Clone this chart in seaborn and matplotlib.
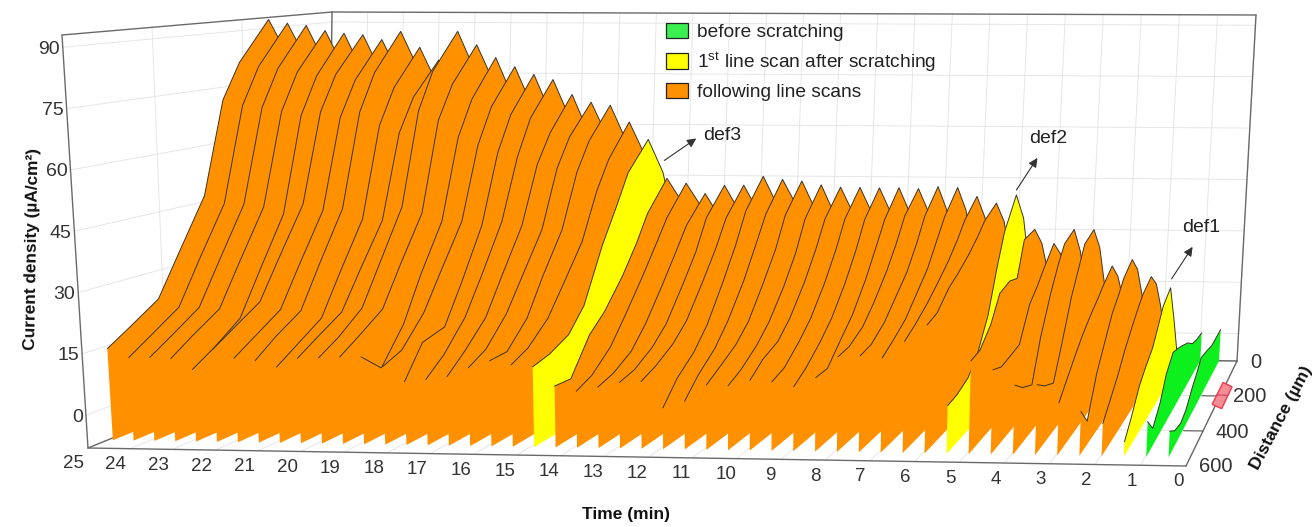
import numpy as np
import pandas as pd
import matplotlib.pyplot as plt
from matplotlib.patches import Patch
import seaborn as sns

sns.set_theme(style="white")
plt.rcParams["font.family"] = ["Liberation Sans", "DejaVu Sans"]
plt.rcParams["mathtext.default"] = "regular"

# Line scans, oldest (left) to newest (right)
scan_times = [24.4, 23.91, 23.42, 22.93, 22.44, 21.95, 21.46, 20.97, 20.48, 19.99,
              19.5, 19.01, 18.52, 18.03, 17.54, 17.05, 16.56, 16.07, 15.58, 15.09,
              14.6, 14.11, 13.62, 13.13, 12.64, 12.15, 11.66, 11.17, 10.68, 10.19,
              9.7, 9.21, 8.72, 8.23, 7.74, 7.25, 6.76, 6.27, 5.78, 5.29,
              4.8, 4.31, 3.82, 3.33, 2.84, 2.35, 1.86, 1.37, 0.88, 0.39]
scan_kinds = ["following"] * 20 + ["first"] + ["following"] * 18 + ["first"] \
    + ["following"] * 7 + ["first"] + ["before"] * 2

distances = [600, 540, 470, 415, 350, 300, 260, 192, 140, 90, 40]

# current density (uA/cm2) of each scan at the distances above
currents = [
    [16.4, 20, 24.6, 35, 48, 72.5, 82, 93, 80, 50, 5],
    [14.3, 18, 22.6, 33.2, 46, 71, 81, 92, 79, 50, 5],
    [14.4, 18, 22.6, 33, 45.9, 70.5, 80.5, 91.4, 78, 49, 5],
    [14.2, 18, 22.3, 32.6, 45.2, 69.5, 79.5, 90, 77, 48, 5],
    [11.6, 15, 20, 30.5, 43.4, 68.5, 78.5, 89.3, 76, 48, 5],
    [16.5, 20, 24.2, 34, 46, 69.5, 79, 88.9, 76, 48, 5],
    [14.5, 18, 22.3, 32.3, 44.4, 68, 77.5, 87.6, 75, 47, 5],
    [14, 18, 22.1, 32.5, 45, 69.5, 79.5, 89.9, 77, 48, 5],
    [12.5, 16, 20.3, 30.3, 42.3, 66, 75.5, 85.5, 73, 46, 5],
    [14.7, 18, 21.9, 31, 42, 64, 73, 82, 70, 44, 5],
    [14.9, 18, 23, 33, 45.6, 70, 80, 90, 77, 48, 5],
    [15.2, 18.5, 22.8, 32.5, 44, 67.5, 76.5, 86.3, 74, 46, 5],
    [15.3, 10.5, 19, 30, 42, 63, 72.5, 82.8, 70, 45, 5],
    [13, 15, 22, 31, 42, 61, 70.5, 80.3, 68, 43, 5],
    [9.4, 17, 18.5, 28, 41, 59, 68.5, 78.2, 66, 42, 5],
    [10, 14, 21, 30, 42, 58, 67.5, 76.8, 65, 41, 5],
    [10.8, 15, 21, 30, 41, 56, 63.5, 72.7, 61, 39, 5],
    [13, 15.5, 22, 30, 40, 55, 62.5, 70.6, 60, 38, 5],
    [14.8, 15, 21, 30, 40, 54, 61.5, 69.8, 59, 38, 5],
    [13.9, 16, 21, 28, 37, 49, 56.5, 65.2, 55, 35, 5],
    [13.5, 14.5, 17, 22.5, 36, 45, 53, 60.4, 50, 32, 5],
    [8.9, 8.5, 17, 21, 28, 35, 42, 49.7, 42, 27, 5],
    [7.7, 9.5, 14, 20, 28, 35, 41, 48.4, 41, 26, 5],
    [8.8, 10, 13, 18, 26, 33, 39, 45.6, 38, 25, 5],
    [10, 11, 14, 18, 26, 33, 41, 47.9, 40, 26, 5],
    [10.3, 12, 15, 19, 27, 34, 41, 48, 40, 26, 5],
    [4, 9, 13, 18, 27, 35, 43, 50.5, 42, 27, 5],
    [5.7, 10, 14, 19, 27, 35, 42, 49.7, 42, 27, 5],
    [9.7, 12, 15, 19, 27, 34, 42, 49.3, 41, 27, 5],
    [9.6, 11.5, 15, 19, 26, 33, 41, 48.3, 40, 26, 5],
    [11, 14, 16, 20, 27, 34, 41, 47.7, 40, 26, 5],
    [10.7, 12, 16, 20, 27, 34, 41, 47.7, 40, 26, 5],
    [9.6, 12, 16, 20, 27, 34, 41, 47.6, 40, 26, 5],
    [11.9, 12, 17, 21, 28, 35, 41, 47.7, 40, 26, 5],
    [17, 17.5, 20, 24, 30, 36, 42, 47.5, 40, 26, 5],
    [17.3, 18, 21, 25, 30, 36, 42, 48.1, 40, 26, 5],
    [16.9, 19, 22, 26, 31, 37, 42, 47.9, 40, 26, 5],
    [21, 23, 26, 29, 33, 37, 41, 45.5, 38, 25, 5],
    [25, 26, 30, 32, 35, 38, 41, 43.7, 37, 24, 5],
    [5.6, 6, 7.5, 11, 19, 30, 38, 46, 38, 22, 5],
    [16.5, 17, 21, 27, 28, 27, 36, 36.6, 31, 21, 6],
    [14.4, 13, 13.5, 14, 22, 25, 28, 32.8, 28, 18, 5],
    [10.8, 8, 6, 16, 25, 31, 35, 36.7, 29, 18, 4],
    [11, 8.5, 6.5, 14, 24, 30, 35, 36.7, 30, 18, 4],
    [6.7, 10, 14, 17, 20, 22, 24, 26.8, 22, 14, 3],
    [4.7, 0, 9, 14, 20, 23, 26, 28.6, 24, 15, 3],
    [1.9, 5, 9, 13, 17, 20, 22, 24, 20, 12, 2],
    [-2.4, 1, 6, 8.5, 11, 15, 18.5, 21, 10, -2, -4],
    [2.5, -1.5, 2, 7, 10, 9, 8, 6, 3.5, 2.5, 2],
    [0.3, -2, -3, -2, 1, 3, 5, 4, 3, 3, 3],
]

time_ticks = list(range(25, -1, -1))
current_ticks = [0, 15, 30, 45, 60, 75, 90]
distance_ticks = [0, 200, 400, 600]

scan_colors = {"following": "#FF9100", "first": "#FFFF00", "before": "#0EF01E"}
legend_colors = {"before": "#3CEF50", "first": "#FFFF00", "following": "#FF9100"}

# Box of the 3D chart in figure pixels: (time 25 / 0, distance 600 / 0, current low / high)
box = {
    (0, 0, 0): (88, 448), (0, 0, 1): (62, 35),
    (0, 1, 0): (328, 350), (0, 1, 1): (332, 12),
    (1, 0, 0): (1186, 466), (1, 0, 1): (1205, 46),
    (1, 1, 0): (1237, 361), (1, 1, 1): (1256, 15),
}
CUR_LOW, CUR_HIGH = -8, 93
BASE = -6


def project(t, d, c):
    # perspective squeeze along the time axis, then trilinear inside the box
    s = (25 - np.asarray(t, float)) / 25
    u = s / (s + 1.04 * (1 - s))
    f = (600 - np.asarray(d, float)) / 600
    w = (np.asarray(c, float) - CUR_LOW) / (CUR_HIGH - CUR_LOW)
    x, y = 0, 0
    for (a, b, e), (px, py) in box.items():
        k = (u if a else 1 - u) * (f if b else 1 - f) * (w if e else 1 - w)
        x = x + k * px
        y = y + k * py
    return x, y


def line3d(ax, p, q, color="#e6e6e6", lw=0.7, zorder=1):
    xa, ya = project(*p)
    xb, yb = project(*q)
    ax.plot([xa, xb], [ya, yb], color=color, lw=lw, zorder=zorder, solid_capstyle="round")


fig = plt.figure(figsize=(13.12, 5.27), dpi=100)
ax = fig.add_axes([0, 0, 1, 1])
ax.set_xlim(0, 1312)
ax.set_ylim(527, 0)
ax.axis("off")

# walls and floor grid
for c in current_ticks:
    line3d(ax, (25, 600, c), (25, 0, c))
    line3d(ax, (25, 0, c), (0, 0, c))
for t in time_ticks:
    line3d(ax, (t, 0, CUR_LOW), (t, 0, CUR_HIGH))
    line3d(ax, (t, 600, CUR_LOW), (t, 0, CUR_LOW))
for d in distance_ticks[1:3]:
    line3d(ax, (25, d, CUR_LOW), (25, d, CUR_HIGH))
    line3d(ax, (25, d, CUR_LOW), (0, d, CUR_LOW))

# frame
frame_edges = [((25, 600, CUR_HIGH), (25, 0, CUR_HIGH)), ((25, 0, CUR_HIGH), (0, 0, CUR_HIGH)),
               ((25, 600, CUR_LOW), (25, 600, CUR_HIGH)), ((25, 600, CUR_LOW), (0, 600, CUR_LOW)),
               ((0, 600, CUR_LOW), (0, 0, CUR_LOW)), ((0, 0, CUR_LOW), (0, 0, CUR_HIGH)),
               ((25, 0, CUR_LOW), (25, 0, CUR_HIGH)), ((25, 600, CUR_LOW), (25, 0, CUR_LOW))]
for p, q in frame_edges:
    line3d(ax, p, q, color="#6a6a6a", lw=1.0, zorder=2)
line3d(ax, (0, 0, CUR_LOW), (0.6, 0, CUR_LOW), color="#5a5a5a", lw=1.0, zorder=2)

# waterfall: every scan covers the one before it
for i, (t, kind, row) in enumerate(zip(scan_times, scan_kinds, currents)):
    cx, cy = project(t, distances, row)
    bx, by = project(t, [distances[-1], distances[0]], BASE)
    ax.fill(np.r_[cx, bx], np.r_[cy, by], color=scan_colors[kind], lw=0, zorder=3 + i * 0.01)
    sns.lineplot(x=cx, y=cy, sort=False, estimator=None, color="#3a3226", lw=0.7, ax=ax,
                 zorder=3.005 + i * 0.01, legend=False)

# scratch marker on the distance axis
mx, my = project([0.14, -0.14, -0.14, 0.14], [123, 147, 272, 248], CUR_LOW)
ax.fill(mx + 2, my, facecolor="#F58C96", edgecolor="#EE3B4A", lw=1.0, zorder=6)
line3d(ax, (0.1, 195, CUR_LOW), (-0.18, 195, CUR_LOW), color="#C93A48", lw=0.7, zorder=7)

# tick labels
for c in current_ticks:
    x, y = project(25, 600, c)
    ax.text(x - 3, y + 2, str(c), ha="right", va="center", fontsize=14, color="#333333")
for t in time_ticks:
    x, y = project(t, 600, CUR_LOW)
    ax.text(x - 15 + 7 * (25 - t) / 25, y + 16, str(t), ha="center", va="center",
            fontsize=13.5, color="#333333")
for d in distance_ticks:
    x, y = project(0, d, CUR_LOW)
    ax.text(x + 13, y + 1, str(d), ha="left", va="center", fontsize=14.5, color="#333333")
    xa, ya = project(0.45, d, CUR_LOW)
    if d in (200, 400):
        ax.plot([xa, x], [ya, y], color="#5a5a5a", lw=0.8, zorder=2)

# axis titles
ax.text(32, 249, "Current density (µA/cm²)", rotation=89, ha="center", va="center",
        fontsize=12.4, fontweight="bold", color="#111111")
ax.text(626, 514, "Time (min)", ha="center", va="center", fontsize=12.5, fontweight="bold",
        color="#111111")
ax.text(1281, 418, "Distance (µm)", rotation=62, ha="center", va="center", fontsize=12.6,
        fontweight="bold", color="#111111")

# defect peaks
peak_notes = [("def3", 20, (16, 21), (32, -22), (74, -4)),
              ("def2", 39, (0, -5), (21, -32), (32, -56)),
              ("def1", 47, (1, -9), (21, -32), (31, -60))]
for label, scan, start, rise, note in peak_notes:
    px, py = project(scan_times[scan], distances[7], currents[scan][7])
    ax.annotate("", xy=(px + start[0] + rise[0], py + start[1] + rise[1]),
                xytext=(px + start[0], py + start[1]),
                arrowprops=dict(arrowstyle="-|>,head_width=0.22,head_length=0.45", color="#333333",
                                lw=0.8, shrinkA=0, shrinkB=0), zorder=8)
    ax.text(px + note[0], py + note[1], label, ha="center", va="center",
            fontsize=14, color="#222222", zorder=8)

# legend
handles = [Patch(facecolor=legend_colors["before"], edgecolor="#222222", lw=0.9),
           Patch(facecolor=legend_colors["first"], edgecolor="#222222", lw=0.9),
           Patch(facecolor=legend_colors["following"], edgecolor="#222222", lw=0.9)]
labels = ["before scratching", "1$^{st}$ line scan after scratching", "following line scans"]
leg = ax.legend(handles, labels, loc="upper left", bbox_to_anchor=(666, 23), bbox_transform=ax.transData,
                frameon=False, fontsize=13.8, handlelength=1.16, handleheight=0.85, labelspacing=0.46,
                handletextpad=0.48, borderpad=0, borderaxespad=0, labelcolor="#222222")
leg.set_zorder(9)

fig.savefig("out.png", dpi=100)
